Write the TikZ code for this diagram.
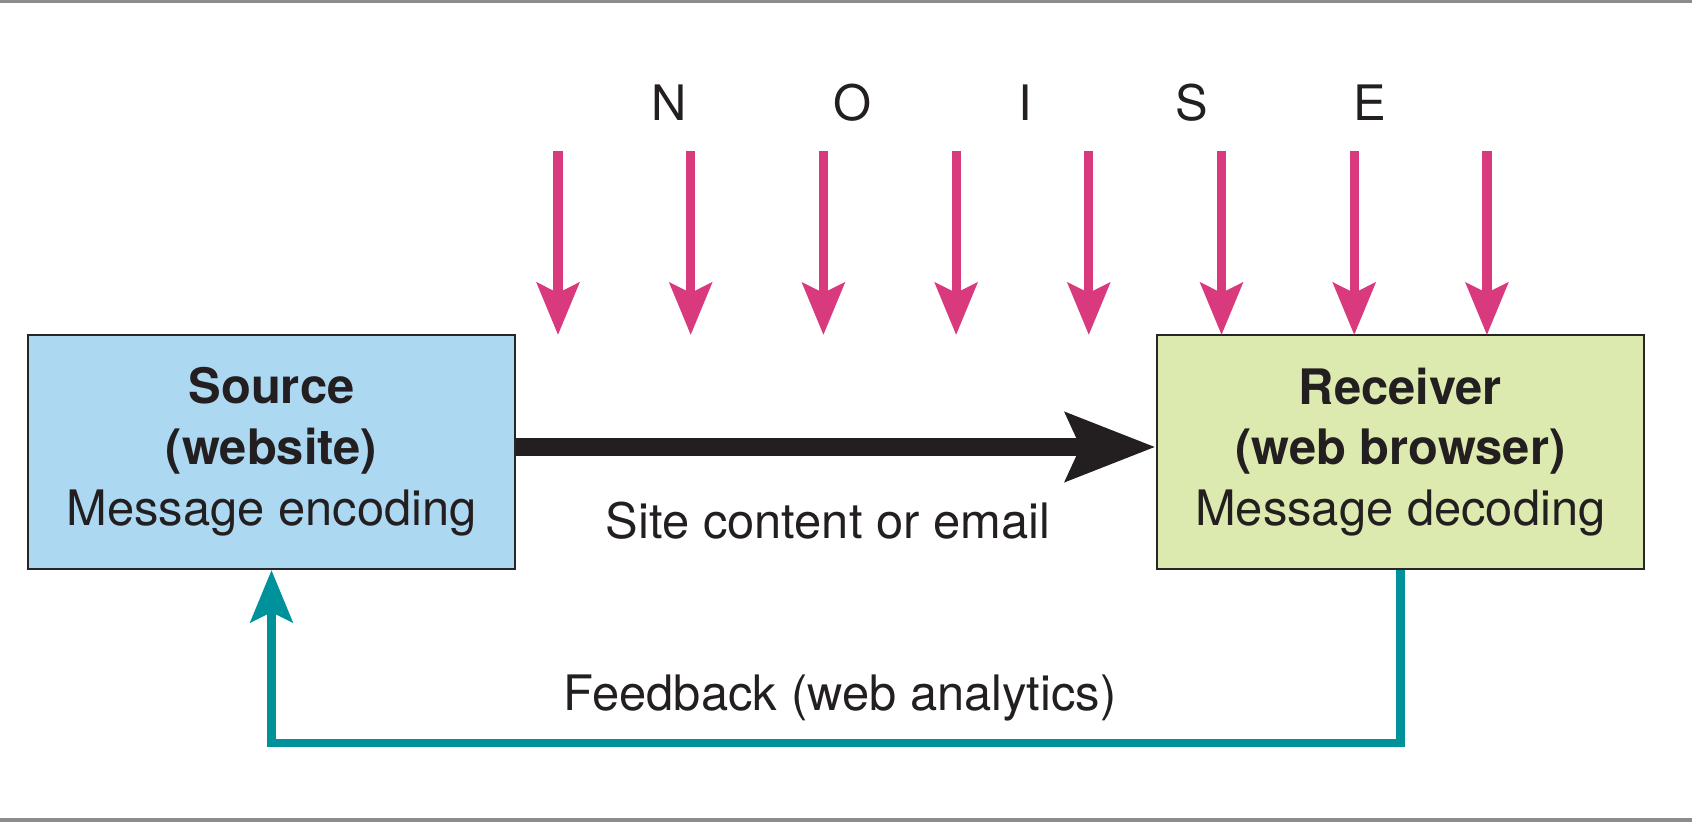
\documentclass[tikz,border=0pt]{standalone}
\usepackage{fontspec}
\setmainfont{TeX Gyre Heros}
\usetikzlibrary{arrows.meta, positioning}
\usepackage{xcolor}
\definecolor{srcblue}{RGB}{173,216,242}
\definecolor{rcvgreen}{RGB}{221,234,175}
\definecolor{noisepink}{RGB}{217,57,125}
\definecolor{fbteal}{RGB}{0,146,155}
\definecolor{flowblack}{RGB}{35,31,32}
\definecolor{rulegray}{RGB}{140,140,140}

\begin{document}
\begin{tikzpicture}[x=0.01cm, y=-0.01cm,
  every node/.style={font=\fontsize{13.9}{17.3}\selectfont, text=flowblack},
  box/.style={draw=black!85, line width=0.6pt, minimum width=4.87cm, minimum height=2.34cm, align=center},
  noise/.style={noisepink, line width=2.6pt, -{Stealth[length=5.2mm, width=4.2mm, inset=1mm]}},
  flow/.style={flowblack, line width=5.1pt, -{Stealth[length=8.9mm, width=6.7mm, inset=1.4mm]}},
  feedback/.style={fbteal, line width=2.4pt, -{Stealth[length=5.2mm, width=4.2mm, inset=1mm]}}]
  \useasboundingbox (0,0) rectangle (1692,822);
  \fill[rulegray] (0,0) rectangle (1692,3);
  \fill[rulegray] (0,818) rectangle (1692,822);

  \node[box, fill=srcblue] (Src) at (271.5,452) {\textbf{Source}\\\textbf{(website)}\\Message encoding};
  \node[box, fill=rcvgreen, right=6.39cm of Src] (Rcv) {\textbf{Receiver}\\\textbf{(web browser)}\\Message decoding};

  \foreach \l/\x in {N/669, O/852, I/1025, S/1192, E/1370}
    \node (noise\l) at (\x,103) {\l};

  \foreach \i in {0,...,7} {
    \coordinate (top\i) at ({558+132.7*\i},151);
    \coordinate (tip\i) at ({558+132.7*\i},335);
    \draw[noise] (top\i) -- (tip\i);
  }

  \node (site) at (828,521) {Site content or email};
  \node (fb) at (840,698) {Feedback (web analytics)};

  \draw[flow] ([yshift=0.05cm]Src.east) -- ([yshift=0.05cm]Rcv.west);
  \draw[feedback] (Rcv.south) -- ++(0,173) -| (Src.south);
\end{tikzpicture}
\end{document}
